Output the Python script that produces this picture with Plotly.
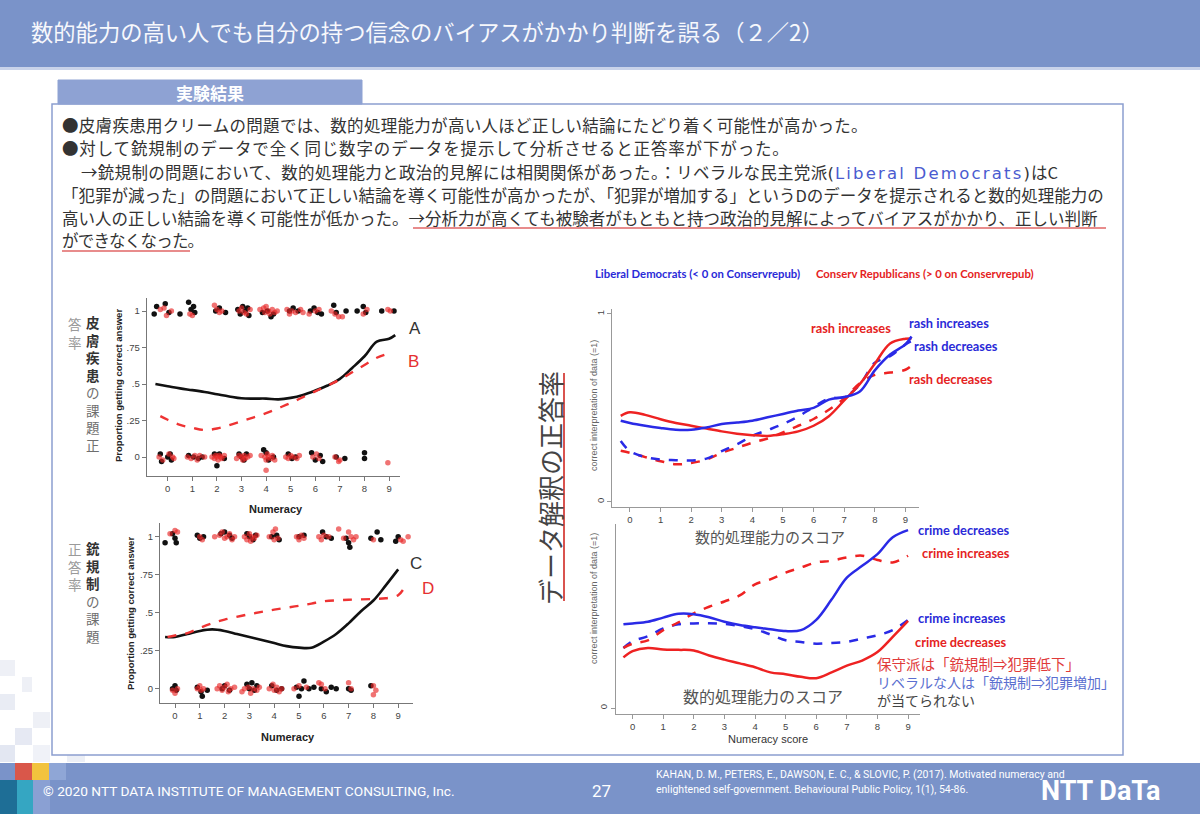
import plotly.graph_objects as go

W, H = 1200, 814
JP = "Noto Sans CJK JP"
SANS = "Liberation Sans"
BOLDF = "Lato"

# ---------------- data ----------------
numeracy_ticks = [0, 1, 2, 3, 4, 5, 6, 7, 8, 9]
prop_ticks = [0, 0.25, 0.5, 0.75, 1]
prop_ticktext = ["0", ".25", ".5", ".75", "1"]

# Skin cream problem (left top): A = black solid, B = red dashed
A_x = [-0.5, 0, 0.5, 1, 1.5, 2, 2.5, 3, 3.5, 4, 4.5, 5, 5.5, 6, 6.5, 7, 7.5, 8, 8.5, 9, 9.25]
A_y = [0.50, 0.485, 0.47, 0.458, 0.445, 0.43, 0.415, 0.402, 0.40, 0.40, 0.395, 0.405, 0.425, 0.455, 0.49, 0.535, 0.61, 0.69, 0.79, 0.81, 0.835]
B_x = [-0.3, 0, 0.5, 1, 1.5, 2, 2.5, 3, 3.5, 4, 4.5, 5, 5.5, 6, 6.5, 7, 7.5, 8, 8.5, 9]
B_y = [0.28, 0.255, 0.22, 0.20, 0.185, 0.195, 0.218, 0.245, 0.272, 0.30, 0.335, 0.37, 0.41, 0.45, 0.49, 0.53, 0.58, 0.63, 0.68, 0.71]

# Gun control problem (left bottom): C = black solid, D = red dashed
C_x = [-0.4, 0, 0.5, 1, 1.5, 2, 2.5, 3, 3.5, 4, 4.5, 5, 5.5, 6, 6.5, 7, 7.5, 8, 8.5, 9]
C_y = [0.34, 0.34, 0.36, 0.38, 0.39, 0.38, 0.36, 0.34, 0.32, 0.30, 0.28, 0.27, 0.27, 0.31, 0.36, 0.43, 0.51, 0.58, 0.68, 0.785]
D_x = [-0.3, 0, 0.5, 1, 1.5, 2, 3, 4, 5, 5.5, 6, 7, 8, 8.5, 9, 9.3]
D_y = [0.34, 0.35, 0.365, 0.40, 0.43, 0.455, 0.49, 0.52, 0.545, 0.56, 0.575, 0.585, 0.59, 0.595, 0.615, 0.68]

# Raw responses (jittered around 0 and 1)
L1_top_black = [(-0.55, 0.98), (-0.45, 1.03), (-0.1, 1.05), (0.05, 0.99), (0.5, 0.98), (0.85, 1.06), (0.95, 1.01),
                (1.05, 1.03), (1.1, 0.99), (1.95, 1.0), (2.1, 1.02), (2.35, 0.99), (2.85, 1.01), (2.95, 0.98),
                (3.05, 1.03), (3.15, 1.0), (3.25, 1.02), (3.3, 0.97), (3.85, 0.99), (4.05, 1.0), (4.2, 0.96),
                (4.3, 0.98), (4.95, 1.0), (5.1, 1.02), (5.3, 1.0), (5.8, 1.0), (5.95, 1.02), (6.1, 0.99),
                (6.25, 0.98), (6.75, 1.04), (6.85, 0.99), (7.25, 1.0), (7.7, 1.0), (7.95, 1.03), (8.05, 0.99),
                (8.7, 1.0), (9.2, 1.0)]
L1_top_red = [(-0.3, 1.01), (-0.15, 1.02), (-0.05, 0.97), (0.15, 1.0), (0.9, 0.98), (1.0, 0.97), (1.9, 1.04),
              (2.0, 1.01), (2.1, 0.99), (2.2, 1.0), (2.9, 1.0), (3.0, 1.02), (3.1, 0.99), (3.2, 0.98), (3.35, 1.01),
              (3.75, 1.01), (3.9, 1.02), (3.95, 0.99), (4.0, 1.03), (4.1, 1.0), (4.15, 0.98), (4.25, 1.01),
              (4.35, 0.99), (4.45, 1.0), (4.85, 1.01), (4.95, 0.98), (5.05, 1.0), (5.2, 0.99), (5.4, 1.01),
              (5.5, 0.99), (5.75, 0.98), (6.0, 1.0), (6.15, 1.01), (6.65, 1.0), (6.8, 0.98), (6.95, 0.96),
              (7.1, 0.96), (7.95, 0.98), (8.1, 1.01), (8.95, 1.01), (9.05, 1.0)]
L1_bot_black = [(-0.3, 0.02), (-0.25, -0.03), (0.0, 0.0), (0.1, 0.02), (0.15, -0.02), (0.85, 0.01), (1.05, 0.0),
                (1.25, -0.01), (1.4, 0.0), (1.9, 0.02), (2.0, -0.06), (2.1, 0.02), (2.3, -0.01), (2.9, 0.02),
                (3.0, 0.0), (3.1, -0.02), (3.2, 0.02), (3.9, 0.05), (4.0, 0.03), (4.1, -0.02), (4.3, 0.0),
                (4.9, 0.02), (5.05, -0.01), (5.2, 0.0), (5.85, 0.03), (6.0, -0.02), (6.2, 0.01), (6.3, -0.03),
                (6.85, 0.0), (7.2, -0.01), (8.0, 0.03), (8.0, -0.01)]
L1_bot_red = [(-0.35, 0.0), (-0.2, -0.02), (0.05, 0.02), (0.2, 0.0), (0.25, -0.01), (0.8, 0.0), (0.95, -0.01),
              (1.1, 0.01), (1.2, -0.02), (1.3, 0.01), (1.5, 0.0), (1.8, 0.0), (1.9, -0.01), (1.95, 0.01), (2.0, 0.0),
              (2.05, -0.02), (2.1, 0.01), (2.15, 0.0), (2.2, -0.01), (2.3, 0.01), (2.8, -0.01), (2.9, 0.01),
              (3.0, 0.0), (3.05, -0.02), (3.1, 0.01), (3.15, -0.01), (3.25, 0.0), (3.35, 0.01), (3.8, 0.01),
              (3.95, 0.0), (4.0, -0.02), (4.05, 0.02), (4.1, 0.0), (4.2, -0.01), (4.25, 0.01), (4.35, -0.02),
              (4.0, -0.09), (4.8, 0.0), (4.9, -0.01), (5.0, 0.01), (5.1, 0.0), (5.25, -0.01), (5.35, 0.01),
              (5.9, 0.0), (6.05, 0.02), (6.15, -0.01), (6.8, 0.0), (6.95, -0.03), (7.0, -0.02), (8.95, -0.04)]

L2_top_black = [(-0.4, 0.96), (-0.1, 1.02), (0.0, 0.99), (0.05, 0.96), (0.9, 1.01), (1.0, 0.99), (1.15, 1.0),
                (1.85, 1.02), (2.0, 1.03), (2.2, 1.01), (2.3, 0.99), (2.9, 1.02), (3.0, 1.0), (3.15, 0.98),
                (3.25, 1.01), (3.9, 1.0), (4.1, 1.01), (4.2, 0.98), (5.0, 1.0), (5.2, 1.01), (5.95, 1.03),
                (6.1, 1.0), (6.3, 0.99), (6.9, 0.99), (7.0, 0.96), (7.05, 0.93), (7.9, 0.99), (8.15, 1.03),
                (8.3, 0.98), (8.9, 0.97), (9.0, 1.0)]
L2_top_red = [(-0.2, 1.02), (0.0, 1.04), (0.1, 1.03), (1.0, 1.0), (1.1, 0.98), (1.6, 1.0), (1.8, 1.01), (1.9, 1.03),
              (2.0, 0.99), (2.1, 1.0), (2.2, 1.02), (2.3, 0.98), (2.4, 1.0), (2.8, 1.0), (2.9, 0.98), (3.0, 1.02),
              (3.05, 0.97), (3.1, 1.0), (3.2, 0.99), (3.3, 1.01), (3.8, 1.0), (3.95, 1.03), (4.0, 0.98),
              (4.05, 1.05), (4.15, 0.99), (4.9, 1.0), (5.0, 0.98), (5.1, 1.01), (5.2, 0.99), (5.8, 1.0),
              (5.9, 0.98), (6.0, 1.01), (6.2, 1.0), (6.6, 1.05), (6.8, 0.99), (7.0, 1.03), (7.1, 1.0),
              (7.2, 0.98), (7.3, 1.0), (8.0, 0.98), (9.1, 0.98), (9.2, 0.97), (9.4, 1.0)]
L2_bot_black = [(-0.1, 0.0), (0.0, 0.02), (0.05, -0.01), (0.9, 0.01), (1.05, -0.02), (1.1, -0.05), (1.3, -0.01),
                (1.9, 0.0), (2.0, 0.02), (2.2, -0.01), (2.9, 0.03), (3.0, 0.0), (3.1, 0.04), (3.2, -0.01),
                (3.3, 0.02), (3.9, 0.02), (4.1, -0.01), (4.3, 0.0), (4.9, 0.01), (5.0, -0.05), (5.1, 0.0),
                (5.2, 0.05), (5.4, 0.0), (5.6, 0.01), (5.9, 0.0), (6.1, -0.02), (6.3, 0.01), (6.5, 0.0),
                (7.0, 0.0), (7.1, -0.01), (7.9, 0.02)]
L2_bot_red = [(-0.1, -0.01), (0.0, -0.03), (0.1, 0.0), (0.9, 0.0), (1.0, 0.02), (1.05, -0.01), (1.15, 0.0),
              (1.7, 0.0), (1.8, 0.02), (1.9, -0.01), (2.0, 0.01), (2.1, 0.03), (2.15, -0.02), (2.25, 0.0),
              (2.4, 0.01), (2.7, -0.02), (2.8, 0.0), (2.95, 0.01), (3.05, -0.03), (3.15, 0.0), (3.3, -0.01),
              (3.4, 0.01), (3.8, 0.0), (3.95, 0.03), (4.0, -0.01), (4.1, 0.01), (4.2, -0.02), (4.3, 0.0),
              (4.8, 0.0), (5.0, 0.02), (5.3, 0.01), (5.8, 0.04), (5.9, 0.03), (6.05, 0.0), (7.0, 0.04),
              (7.1, 0.0), (8.0, -0.04), (8.1, -0.01), (8.0, 0.02)]

# Right top: rash (skin cream) by party
rash_x = [-0.3, 0, 0.5, 1, 1.5, 2, 2.5, 3, 3.5, 4, 4.5, 5, 5.5, 6, 6.5, 7, 7.5, 8, 8.5, 9, 9.2]
lib_rash_solid = [0.432, 0.42, 0.405, 0.393, 0.384, 0.384, 0.396, 0.414, 0.422, 0.432, 0.45, 0.468, 0.486, 0.50, 0.544, 0.558, 0.586, 0.70, 0.784, 0.838, 0.88]
lib_rash_dash = [0.324, 0.27, 0.238, 0.225, 0.222, 0.22, 0.23, 0.27, 0.306, 0.351, 0.382, 0.414, 0.454, 0.505, 0.55, 0.558, 0.622, 0.74, 0.775, 0.838, 0.856]
con_rash_solid = [0.458, 0.477, 0.463, 0.44, 0.42, 0.405, 0.39, 0.375, 0.363, 0.355, 0.351, 0.36, 0.375, 0.405, 0.456, 0.54, 0.625, 0.735, 0.843, 0.868, 0.87]
con_rash_dash = [0.272, 0.261, 0.238, 0.216, 0.20, 0.207, 0.225, 0.261, 0.288, 0.315, 0.337, 0.37, 0.405, 0.441, 0.49, 0.55, 0.63, 0.676, 0.688, 0.703, 0.726]

# Right bottom: crime (gun control) by party
crime_x = [-0.3, 0, 0.5, 1, 1.5, 2, 2.5, 3, 3.5, 4, 4.5, 5, 5.5, 6, 6.5, 7, 7.5, 8, 8.5, 9]
lib_crime_dec = [0.446, 0.451, 0.46, 0.482, 0.502, 0.50, 0.484, 0.46, 0.442, 0.43, 0.42, 0.41, 0.415, 0.47, 0.578, 0.695, 0.758, 0.82, 0.91, 0.948]
lib_crime_inc = [0.32, 0.356, 0.383, 0.424, 0.446, 0.451, 0.452, 0.448, 0.436, 0.42, 0.392, 0.361, 0.352, 0.343, 0.347, 0.352, 0.37, 0.388, 0.415, 0.469]
con_crime_inc = [0.321, 0.343, 0.361, 0.415, 0.457, 0.505, 0.54, 0.568, 0.60, 0.659, 0.686, 0.722, 0.749, 0.776, 0.785, 0.803, 0.812, 0.789, 0.776, 0.812]
con_crime_dec = [0.27, 0.303, 0.32, 0.312, 0.31, 0.307, 0.28, 0.258, 0.238, 0.217, 0.19, 0.18, 0.166, 0.159, 0.19, 0.226, 0.253, 0.298, 0.379, 0.464]

# ---------------- helpers ----------------
def X(p):
    return p / W

def Y(p):
    return 1 - p / H

anns = []
shapes = []

def T(text, x, y, size, color, xa="left", ya="middle", family=JP, angle=0):
    anns.append(dict(text=text, x=X(x), y=Y(y), xref="paper", yref="paper", xanchor=xa, yanchor=ya,
                     showarrow=False, font=dict(size=size, color=color, family=family), textangle=angle,
                     borderpad=0))

def VCOL(chars, colors, bold, x, yc, size):
    parts = []
    for ch, col, b in zip(chars, colors, bold):
        s = "<span style='color:%s'>%s</span>" % (col, ch)
        if b:
            s = "<b>" + s + "</b>"
        parts.append(s)
    T("<br>".join(parts), x, yc, size, colors[0], xa="center")

def RECT(x0, y0, x1, y1, fill, line="rgba(0,0,0,0)", lw=0, layer="below"):
    shapes.append(dict(type="rect", xref="paper", yref="paper", x0=X(x0), x1=X(x1), y0=Y(y1), y1=Y(y0),
                       fillcolor=fill, line=dict(color=line, width=lw), layer=layer))

def LINE(x0, y0, x1, y1, color, w, layer="above"):
    shapes.append(dict(type="line", xref="paper", yref="paper", x0=X(x0), x1=X(x1), y0=Y(y0), y1=Y(y1),
                       line=dict(color=color, width=w), layer=layer))

BAR = "#7A93C9"

# ---------------- slide chrome ----------------
RECT(0, 0, 1200, 67, BAR)
RECT(0, 67, 1200, 70, "#C9D3EA")
T("数的能力の高い人でも自分の持つ信念のバイアスがかかり判断を誤る（２／2）", 30, 31, 22.3, "#F7F8FC")

# decorative squares bottom-left
for (a, b, c, d, col) in [(0, 660, 15, 676, "#EEF0F6"), (22, 677, 32, 692, "#EEF0F6"), (0, 694, 15, 710, "#E9ECF4"),
                          (33, 712, 50, 728, "#EEF0F6"), (15, 728, 32, 745, "#E6E9F3"), (0, 745, 15, 762, "#E3E7F2"),
                          (33, 745, 50, 762, "#F0F2F8"), (67, 745, 85, 762, "#ECEFF6")]:
    RECT(a, b, c, d, col)

RECT(52, 104, 1123, 755, "white", "#8C9FD0", 1.5)
RECT(58, 80, 362, 104, "#8EA2D3", "#8EA2D3", 1)
T("<b>実験結果</b>", 210, 92, 17, "white", xa="center")

# body text
BODY = "#333333"
T("<span style='letter-spacing:0.3px'>●皮膚疾患用クリームの問題では、数的処理能力が高い人ほど正しい結論にたどり着く可能性が高かった。</span>",
  61, 125, 16.5, BODY)
T("<span style='letter-spacing:0.85px'>●対して銃規制のデータで全く同じ数字のデータを提示して分析させると正答率が下がった。</span>",
  61, 148, 16.5, BODY)
T("<span style='letter-spacing:0.3px'>→銃規制の問題において、数的処理能力と政治的見解には相関関係があった。：リベラルな民主党派</span>"
  "<span style='font-family:DejaVu Sans;letter-spacing:1px'>(<span style='color:#4A5BD0;letter-spacing:2.2px'>Liberal Democrats</span>)</span>はC",
  80, 172, 16.5, BODY)
T("「犯罪が減った」の問題において正しい結論を導く可能性が高かったが、「犯罪が増加する」というDのデータを提示されると数的処理能力の",
  61, 195, 16.5, BODY)
T("高い人の正しい結論を導く可能性が低かった。→分析力が高くても被験者がもともと持つ政治的見解によってバイアスがかかり、正しい判断",
  61, 218, 16.5, BODY)
T("<span style='letter-spacing:-0.8px'>ができなくなった。</span>", 61, 240, 16.5, BODY)
LINE(413, 228, 1106, 228, "#E06666", 1.5)
LINE(62, 251, 190, 251, "#E06666", 1.5)

# footer
RECT(0, 763, 1200, 814, BAR)
RECT(15, 763, 32, 780, "#D9574A")
RECT(32, 763, 49, 780, "#F2C33D")
RECT(49, 763, 66, 780, "#8FA6D6")
RECT(0, 780, 17, 814, "#1E6E96")
RECT(17, 780, 33, 814, "#35A6C2")
RECT(33, 780, 50, 814, "#8AA0D3")
T("© 2020 NTT DATA INSTITUTE OF MANAGEMENT CONSULTING, Inc.", 42, 791, 13.7, "white", family="Roboto")
T("27", 601, 791, 17, "white", xa="center", family="Roboto")
T("KAHAN, D. M., PETERS, E., DAWSON, E. C., & SLOVIC, P. (2017). Motivated numeracy and", 655, 774, 10.5, "white", family="Roboto")
T("enlightened self-government. Behavioural Public Policy, 1(1), 54-86.", 655, 789, 10.5, "white", family="Roboto")
T("<b>NTT DaTa</b>", 1162, 791, 27, "white", xa="right", family="Roboto")

# ---------------- figure & axes ----------------
fig = go.Figure()

def pts(lst, xa, ya, color, opacity=1.0):
    fig.add_trace(go.Scatter(x=[p[0] for p in lst], y=[p[1] for p in lst], mode="markers", xaxis=xa, yaxis=ya,
                             marker=dict(size=5.5, color=color, opacity=opacity, line=dict(width=0)),
                             showlegend=False, hoverinfo="skip"))

def curve(xs, ys, xa, ya, color, dash="solid", w=2.5):
    fig.add_trace(go.Scatter(x=xs, y=ys, mode="lines", xaxis=xa, yaxis=ya,
                             line=dict(color=color, width=w, dash=dash, shape="spline", smoothing=1.0),
                             showlegend=False, hoverinfo="skip"))

RED_PT = "rgba(232,40,40,0.65)"
BLK = "#111111"
for lst, col in [(L1_top_black, BLK), (L1_top_red, RED_PT), (L1_bot_black, BLK), (L1_bot_red, RED_PT)]:
    pts(lst, "x", "y", col)
curve(A_x, A_y, "x", "y", "#111111", "solid", 2.6)
curve(B_x, B_y, "x", "y", "#EE3333", "dash", 2.4)

for lst, col in [(L2_top_black, BLK), (L2_top_red, RED_PT), (L2_bot_black, BLK), (L2_bot_red, RED_PT)]:
    pts(lst, "x2", "y2", col)
curve(C_x, C_y, "x2", "y2", "#111111", "solid", 2.6)
curve(D_x, D_y, "x2", "y2", "#EE3333", "dash", 2.4)

BLUE = "#2A2AE6"
RED = "#EE2222"
curve(rash_x, con_rash_dash, "x3", "y3", RED, "dash")
curve(rash_x, lib_rash_dash, "x3", "y3", BLUE, "dash")
curve(rash_x, con_rash_solid, "x3", "y3", RED, "solid")
curve(rash_x, lib_rash_solid, "x3", "y3", BLUE, "solid")

curve(crime_x, lib_crime_inc, "x4", "y4", BLUE, "dash")
curve(crime_x, con_crime_inc, "x4", "y4", RED, "dash")
curve(crime_x, con_crime_dec, "x4", "y4", RED, "solid")
curve(crime_x, lib_crime_dec, "x4", "y4", BLUE, "solid")

def xax(dom, rng, col, size):
    return dict(domain=[X(dom[0]), X(dom[1])], range=rng, showline=True, linecolor=col, linewidth=1,
                ticks="outside", ticklen=4, tickcolor=col, tickvals=numeracy_ticks, showgrid=False,
                zeroline=False, tickfont=dict(size=size, color="#444", family=SANS), fixedrange=True)

def yax(dom, rng, col, size, tv, tt, angle=0):
    return dict(domain=[Y(dom[1]), Y(dom[0])], range=rng, showline=True, linecolor=col, linewidth=1,
                ticks="outside", ticklen=4, tickcolor=col, tickvals=tv, ticktext=tt, showgrid=False,
                zeroline=False, tickfont=dict(size=size, color="#444", family=SANS), tickangle=angle,
                fixedrange=True)

fig.update_layout(
    width=W, height=H, margin=dict(l=0, r=0, t=0, b=0), paper_bgcolor="white", plot_bgcolor="rgba(0,0,0,0)",
    showlegend=False,
    xaxis=dict(xax((146.7, 400), [-0.854, 9.443], "#777", 9.5), anchor="y"),
    yaxis=dict(yax((298, 476), [-0.130, 1.089], "#777", 9.5, prop_ticks, prop_ticktext), anchor="x"),
    xaxis2=dict(xax((160, 413), [-0.605, 9.597], "#777", 9.5), anchor="y2"),
    yaxis2=dict(yax((523, 703), [-0.094, 1.090], "#777", 9.5, prop_ticks, prop_ticktext), anchor="x2"),
    xaxis3=dict(xax((612.3, 918.9), [-0.575, 9.44], "#999", 9.5), anchor="y3"),
    yaxis3=dict(yax((309.1, 506.9), [-0.027, 1.026], "#999", 9.5, [0, 1], ["0", "1"], -90), anchor="x3"),
    xaxis4=dict(xax((616, 920), [-0.542, 9.39], "#999", 9.5), anchor="y4"),
    yaxis4=dict(yax((524, 714), [-0.032, 0.981], "#999", 9.5, [0], ["0"], -90), anchor="x4"),
)

# ---------------- chart texts ----------------
# left charts
T("<b>Proportion getting correct answer</b>", 118, 386, 9.5, "#222", xa="center", family=SANS, angle=-90)
T("<b>Numeracy</b>", 276, 509, 11, "#222", xa="center", family=SANS)
T("<b>Proportion getting correct answer</b>", 130, 614, 9.5, "#222", xa="center", family=SANS, angle=-90)
T("<b>Numeracy</b>", 288, 737, 11, "#222", xa="center", family=SANS)
T("A", 415, 328, 17, "#333", xa="center", family=SANS)
T("B", 413, 361, 17, "#E53030", xa="center", family=SANS)
T("C", 416, 563, 17, "#333", xa="center", family=SANS)
T("D", 428, 588, 17, "#E53030", xa="center", family=SANS)

DK, GR, LG = "#333333", "#6E6E6E", "#9A9A9A"
VS = 13.5
VCOL(["皮", "膚", "疾", "患", "の", "課", "題", "正"], [DK, DK, DK, DK, GR, GR, GR, GR],
     [1, 1, 1, 1, 0, 0, 0, 0], 93, 383, VS)
VCOL(["答", "率"], [LG, LG], [0, 0], 75, 333, VS)
VCOL(["銃", "規", "制", "の", "課", "題"], [DK, DK, DK, GR, GR, GR], [1, 1, 1, 0, 0, 0], 93, 592, VS)
VCOL(["正", "答", "率"], [LG, LG, LG], [0, 0, 0], 75, 566, VS)

# right charts
T("<b>Liberal Democrats (< 0 on Conservrepub)</b>", 697, 273, 11.3, "#2A2AD8", xa="center", family=BOLDF)
T("<b>Conserv Republicans (> 0 on Conservrepub)</b>", 925, 273, 11.3, "#E52222", xa="center", family=BOLDF)
T("correct interpretation of data (=1)", 594, 406, 9, "#666", xa="center", family=SANS, angle=-90)
T("correct interpretation of data (=1)", 594, 599, 9, "#666", xa="center", family=SANS, angle=-90)
T("数的処理能力のスコア", 770, 536, 15, "#555", xa="center")
T("数的処理能力のスコア", 763, 696, 16, "#555", xa="center")
T("Numeracy score", 768, 739, 11, "#333", xa="center", family=SANS)

LB = 12.8
T("<b>rash increases</b>", 851, 328, LB, "#E52222", xa="center", family=BOLDF)
T("<b>rash increases</b>", 949, 323, LB, "#2A2AD8", xa="center", family=BOLDF)
T("<b>rash decreases</b>", 956, 346, LB, "#2A2AD8", xa="center", family=BOLDF)
T("<b>rash decreases</b>", 951, 379, LB, "#E52222", xa="center", family=BOLDF)
T("<b>crime decreases</b>", 963, 530, LB, "#2A2AD8", xa="center", family=BOLDF)
T("<b>crime increases</b>", 966, 553, LB, "#E52222", xa="center", family=BOLDF)
T("<b>crime increases</b>", 962, 618, LB, "#2A2AD8", xa="center", family=BOLDF)
T("<b>crime decreases</b>", 960, 642, LB, "#E52222", xa="center", family=BOLDF)

T("保守派は「銃規制⇒犯罪低下」", 876, 663, 14.5, "#E03A3A")
T("リベラルな人は「銃規制⇒犯罪増加」", 876, 682, 14, "#5B6FD0")
T("が当てられない", 876, 700, 14, "#444")

# big vertical caption
T("データ解釈の正答率", 550, 488, 26, "#444", xa="center", angle=-90)
LINE(564, 373, 564, 601, "#D9534F", 2)

fig.update_layout(annotations=anns, shapes=shapes)
fig.write_html("out.html", config={"displayModeBar": False},
               post_script="document.body.style.margin='0px';")
